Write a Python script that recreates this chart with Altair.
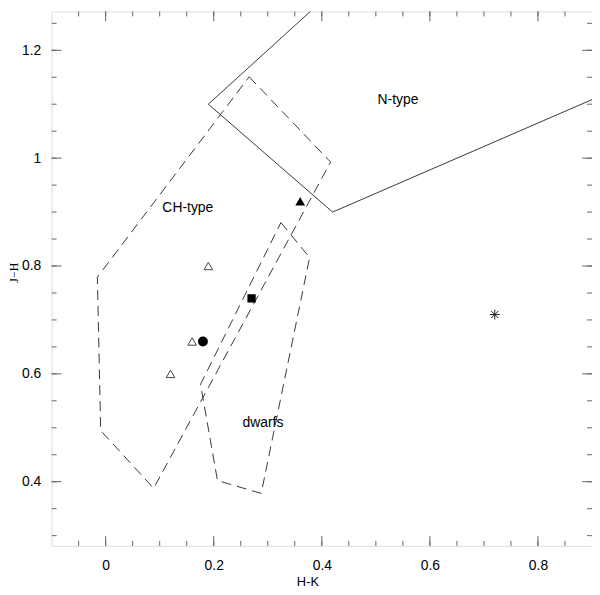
import altair as alt
import pandas as pd

# ---- data ----
x_domain = [-0.1, 0.9]
y_domain = [0.281, 1.272]

# N-type region (solid, partly outside the frame -> clipped)
n_hk = [0.45, 0.19, 0.42, 1.00]
n_jh = [1.337, 1.10, 0.90, 1.152]

# CH-type region (dashed, closed)
ch_hk = [0.2655, 0.4162, 0.0888, -0.0092, -0.0154, 0.2655]
ch_jh = [1.1508, 0.9927, 0.3877, 0.4949, 0.7794, 1.1508]

# dwarfs region (dashed, closed)
dw_hk = [0.3243, 0.3774, 0.2878, 0.2069, 0.1756, 0.3243]
dw_jh = [0.8805, 0.8157, 0.3783, 0.4022, 0.5806, 0.8805]

# stars
tri_filled_hk, tri_filled_jh = [0.36], [0.92]
tri_open_hk, tri_open_jh = [0.19, 0.16, 0.12], [0.80, 0.66, 0.60]
circle_hk, circle_jh = [0.18], [0.66]
square_hk, square_jh = [0.27], [0.74]
aster_hk, aster_jh = [0.72], [0.71]

# region labels
lab_text = ["N-type", "CH-type", "dwarfs"]
lab_hk = [0.541, 0.152, 0.291]
lab_jh = [1.108, 0.908, 0.508]

# ticks
x_labels = [0, 0.2, 0.4, 0.6, 0.8]
x_minor = [-0.05, 0.0, 0.05, 0.1, 0.15, 0.2, 0.25, 0.3, 0.35, 0.4, 0.45,
           0.5, 0.55, 0.6, 0.65, 0.7, 0.75, 0.8, 0.85]
y_labels = [0.4, 0.6, 0.8, 1.0, 1.2]
y_minor = [0.3, 0.35, 0.4, 0.45, 0.5, 0.55, 0.6, 0.65, 0.7, 0.75, 0.8,
           0.85, 0.9, 0.95, 1.0, 1.05, 1.1, 1.15, 1.2, 1.25]

W, H = 545, 539
FONT = "Liberation Sans"

xs = alt.Scale(domain=x_domain, nice=False, zero=False)
ys = alt.Scale(domain=y_domain, nice=False, zero=False)

X = alt.X("hk:Q", scale=xs, axis=alt.Axis(
    values=x_labels, format="~g", title="H-K", ticks=False, tickSize=0,
    domain=False, grid=False, labelFont=FONT, labelFontSize=14,
    labelPadding=13, labelColor="black", labelOverlap=False,
    titleFont=FONT, titleFontSize=13, titleFontWeight="normal",
    titleColor="black", titleX=258, titleY=36, titleBaseline="middle"))
Y = alt.Y("jh:Q", scale=ys, axis=alt.Axis(
    values=y_labels, format="~g", title="J−H", ticks=False, tickSize=0,
    domain=False, grid=False, labelFont=FONT, labelFontSize=14,
    labelPadding=11, labelColor="black", labelOverlap=False,
    titleFont="Liberation Serif", titleFontSize=12, titleFontWeight="normal",
    titleColor="black", titleX=-34, titleY=263, titleAngle=270,
    titleBaseline="alphabetic"))

ntype = pd.DataFrame({"hk": n_hk, "jh": n_jh, "o": list(range(len(n_hk)))})
dashed = pd.DataFrame({
    "hk": ch_hk + dw_hk,
    "jh": ch_jh + dw_jh,
    "g": ["ch"] * len(ch_hk) + ["dw"] * len(dw_hk),
    "o": list(range(len(ch_hk))) + list(range(len(dw_hk))),
})

n_layer = alt.Chart(ntype).mark_line(color="#222", strokeWidth=0.9, clip=True).encode(
    x=X, y=Y, order="o:Q")
d_layer = alt.Chart(dashed).mark_line(color="#222", strokeWidth=0.9,
                                       strokeDash=[10, 6], clip=True).encode(
    x=X, y=Y, order="o:Q", detail="g:N")

def pts(hk, jh):
    return pd.DataFrame({"hk": hk, "jh": jh})

tf = alt.Chart(pts(tri_filled_hk, tri_filled_jh)).mark_point(
    shape="triangle-up", filled=True, color="black", size=95, opacity=1).encode(x=X, y=Y)
to = alt.Chart(pts(tri_open_hk, tri_open_jh)).mark_point(
    shape="triangle-up", filled=False, color="#333", size=75, strokeWidth=0.9, opacity=1).encode(x=X, y=Y)
ci = alt.Chart(pts(circle_hk, circle_jh)).mark_point(
    shape="circle", filled=True, color="black", size=100, opacity=1).encode(x=X, y=Y)
sq = alt.Chart(pts(square_hk, square_jh)).mark_point(
    shape="square", filled=True, color="black", size=70, opacity=1).encode(x=X, y=Y)
ast = alt.Chart(pts(aster_hk, aster_jh)).mark_point(
    shape="M-1,0L1,0M0,-1L0,1M-0.7,-0.7L0.7,0.7M-0.7,0.7L0.7,-0.7",
    filled=False, color="#222", size=100, strokeWidth=1, opacity=1).encode(x=X, y=Y)

labels = alt.Chart(pd.DataFrame({"t": lab_text, "hk": lab_hk, "jh": lab_jh})).mark_text(
    font=FONT, fontSize=14, color="black", align="center", baseline="middle").encode(
    x=X, y=Y, text="t:N")

TICK = "#666"
def xticks(vals, L):
    df = pd.DataFrame({"hk": vals})
    b = alt.Chart(df).mark_rule(color=TICK, strokeWidth=1).encode(
        x=X, y=alt.value(H), y2=alt.value(H - L))
    t = alt.Chart(df).mark_rule(color=TICK, strokeWidth=1).encode(
        x=X, y=alt.value(0), y2=alt.value(L))
    return [b, t]

def yticks(vals, L):
    df = pd.DataFrame({"jh": vals})
    l = alt.Chart(df).mark_rule(color=TICK, strokeWidth=1).encode(
        y=Y, x=alt.value(0), x2=alt.value(L))
    r = alt.Chart(df).mark_rule(color=TICK, strokeWidth=1).encode(
        y=Y, x=alt.value(W), x2=alt.value(W - L))
    return [l, r]

layers = [n_layer, d_layer, tf, to, ci, sq, ast, labels]
layers += xticks(x_minor, 5) + xticks(x_labels, 10)
layers += yticks(y_minor, 5) + yticks(y_labels, 10)

chart = alt.layer(*layers).properties(
    width=W, height=H,
    autosize=alt.AutoSizeParams(type="none"),
    padding={"left": 44, "top": 1, "right": 0, "bottom": 42},
).configure_view(stroke="#666", strokeWidth=1).configure(background="white")

chart.save("out.html", embed_options={"renderer": "svg", "actions": False})
